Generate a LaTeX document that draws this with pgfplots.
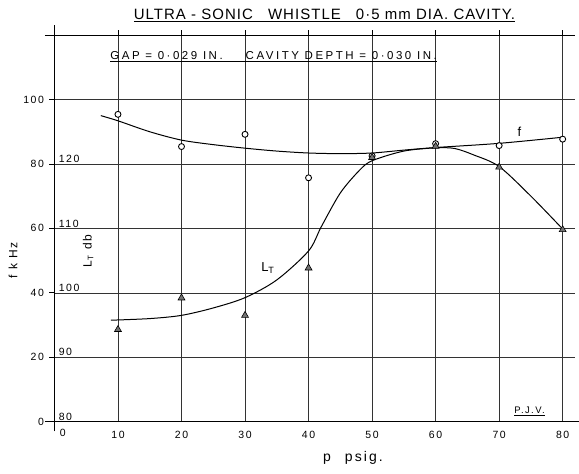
\documentclass[border=0pt]{standalone}
\usepackage{fontspec}
\setmainfont{Liberation Sans}
\usepackage{pgfplots}
\pgfplotsset{compat=1.18}
\newcommand\hw[2]{\fontsize{#1}{#1}\selectfont\addfontfeature{LetterSpace=#2}}
\begin{document}
\begin{tikzpicture}
\begin{axis}[
  x=6.36pt, y=3.225pt,
  xmin=0, xmax=82, ymin=0, ymax=120,
  axis line style={draw=none},
  clip=false,
  xtick={10,20,...,80},
  ytick={0,20,...,120},
  yticklabels={0,20,40,60,80,100,},
  xtick pos=top, xticklabel pos=bottom,
  ytick pos=left, yticklabel pos=left,
  tick align=outside,
  major tick length=5pt,
  tick style={black, line width=0.7pt},
  grid=major,
  major grid style={black!80, line width=0.6pt},
  /pgf/number format/assume math mode=true,
  ticklabel style={font=\hw{10.5}{15}},
  xticklabel style={yshift=-1pt},
  yticklabel style={xshift=-2pt},
]
% axis frame lines
\draw[line width=0.9pt] (axis cs:0,-3) -- (axis cs:0,123);
\draw[line width=0.9pt] (axis cs:-1.5,0) -- (axis cs:82.5,0);
\draw[line width=0.7pt] (axis cs:-1.5,120) -- (axis cs:82,120);

% f curve
\addplot[smooth, black, line width=1pt] coordinates {
 (7.3,95.0) (10,93.4) (15,90.0) (20,87.4) (25,86.0) (30,84.9) (35,84.0)
 (40,83.4) (45,83.2) (50,83.4) (55,84.3) (60,85.1) (70,86.4) (80,88.3)};
\addplot[only marks, mark=*, mark size=3pt,
  mark options={fill=white, draw=black, line width=0.9pt}] coordinates {
 (10,95.4) (20,85.4) (30,89.2) (40,75.7) (50,82.5) (60,86.3) (70,85.7) (80,87.7)};
% L_T curve
\addplot[smooth, black, line width=1pt] coordinates {
 (8.9,31.5) (15,32.0) (20,33.0) (25,35.3) (30,38.5) (35,44.0) (40,53.0)
 (42,60.5) (45,71.0) (48,78.0) (50,81.0) (55,84.0) (60,85.0) (63,84.8)
 (66,82.8) (70,79.2) (75,70.0) (80,59.8)};
\addplot[only marks, mark=triangle*, mark size=4pt,
  mark options={fill=black!55, draw=black, line width=0.6pt}] coordinates {
 (10,28.6) (20,38.4) (30,33.0) (40,47.7) (50,82.0) (60,85.5) (70,79.0) (80,59.6)};

% secondary L_T scale labels
\foreach \yy/\lab in {0/80,20/90,40/100,60/110,80/120}{
  \edef\tmp{\noexpand\node[anchor=south west, inner sep=1pt, font=\noexpand\hw{10.5}{15}] at (axis cs:0.5,\yy) {\lab};}
  \tmp
}
\node[font=\hw{10.5}{15}] at (axis cs:1.3,-3.6) {0};

% axis titles
\node[rotate=90, font=\hw{12}{12}] at (axis cs:-6.5,50) {f\enspace k Hz};
\node[rotate=90, font=\hw{12}{12}] at (axis cs:5.3,53) {L\textsubscript{T}\enspace db};
\node[font=\hw{14}{15}] at (axis cs:47,-11.2) {p\quad psig.};

% curve labels
\node[font=\hw{13}{0}] at (axis cs:73.2,90) {f};
\node[font=\hw{13}{0}] at (axis cs:33.6,47.7) {L\textsubscript{T}};

% titles
\node[font=\hw{15}{7}] at (axis cs:42.5,126.2)
  {\underline{ULTRA - SONIC\quad WHISTLE\quad 0·5 mm DIA. CAVITY.}};
\node[font=\hw{11.5}{22}] at (axis cs:34.5,113.2)
  {\underline{GAP = 0·029 IN.\qquad CAVITY DEPTH = 0·030\enspace IN.}};
\node[font=\hw{9.5}{15}] at (axis cs:74.8,3.1) {\underline{P.J.V.}};

% bounding box
\path (axis cs:-8.57,-16.1) rectangle (axis cs:82.47,130.9);
\end{axis}
\end{tikzpicture}
\end{document}
